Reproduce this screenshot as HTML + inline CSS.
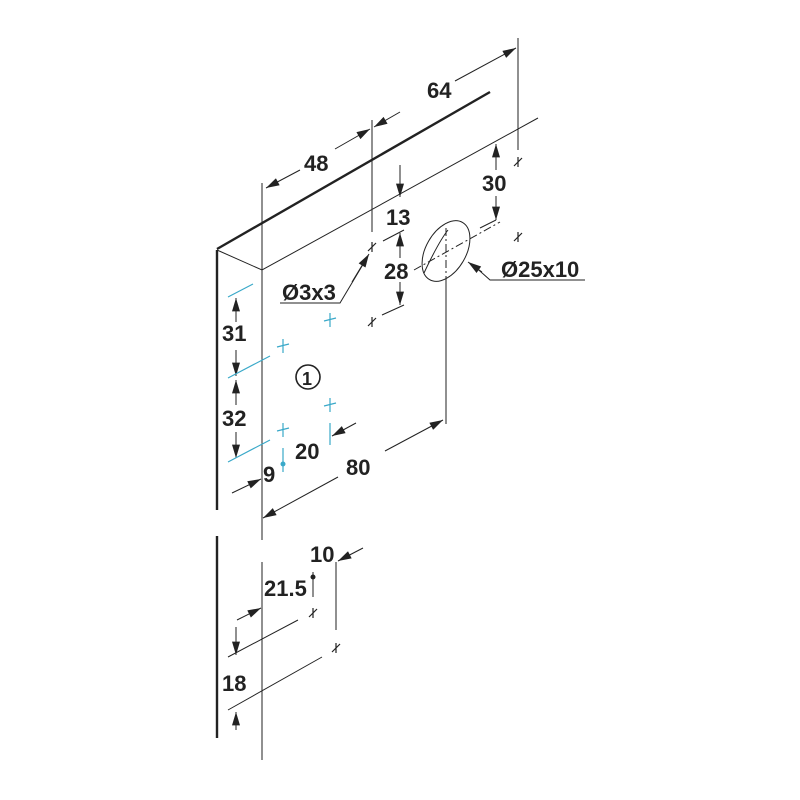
<!DOCTYPE html>
<html><head><style>body{margin:0;background:#fff}svg{display:block}text{font-family:"Liberation Sans",Arial,sans-serif;font-weight:bold;fill:#222}</style></head>
<body>
<svg width="800" height="800" viewBox="0 0 800 800">
<defs>
<marker id="a" viewBox="0 0 10 6" refX="10" refY="3" markerWidth="16" markerHeight="8" markerUnits="userSpaceOnUse" orient="auto"><path d="M0,0L10,3L0,6z" fill="#222"/></marker>
</defs>
<g stroke="#222" fill="none" stroke-width="1">
<path d="M217,250V510M217,536V738" stroke-width="2.4"/>
<path d="M217,249L490,92" stroke-width="2.4"/>
<path d="M217,250L262,270L538,118"/>
<path d="M262,183V540M262,562V760"/>
<path d="M446,282V424"/>
<path d="M372,120V232M518,38V150"/>
<path d="M446,228V302" stroke-dasharray="8,3,2,3"/>
<path d="M414,270L500,222" stroke-dasharray="8,3,2,3"/>
<ellipse cx="446" cy="251" rx="20" ry="33" transform="rotate(30 446 251)"/>
<path d="M424,273C432,256 440,240 448,230"/>
<path d="M300,170L266,188" marker-end="url(#a)"/>
<path d="M335,149L370,129" marker-end="url(#a)"/>
<path d="M400,112L374,127" marker-end="url(#a)"/>
<path d="M455,81L516,48" marker-end="url(#a)"/>
<path d="M496,170L496,144" marker-end="url(#a)"/>
<path d="M496,196L496,220" marker-end="url(#a)"/>
<path d="M496,220L480,228"/>
<path d="M400,165L400,197" marker-end="url(#a)"/>
<path d="M383,241L404,230"/>
<path d="M400,258L400,233" marker-end="url(#a)"/>
<path d="M400,282L400,305" marker-end="url(#a)"/>
<path d="M382,315L404,305"/>
<path d="M585,280H490L472,264"/><path d="M482,272L468,262" marker-end="url(#a)"/>
<path d="M280,303H340L368,256"/><path d="M352,282L369,254" marker-end="url(#a)"/>
<path d="M236,322L236,298" marker-end="url(#a)"/>
<path d="M236,350L236,376" marker-end="url(#a)"/>
<path d="M236,405L236,380" marker-end="url(#a)"/>
<path d="M236,432L236,458" marker-end="url(#a)"/>
<path d="M232,493L261,479" marker-end="url(#a)"/>
<path d="M356,423L332,436" marker-end="url(#a)"/>
<path d="M385,451L443,420" marker-end="url(#a)"/>
<path d="M338,477L263,518" marker-end="url(#a)"/>
<path d="M363,548L338,561" marker-end="url(#a)"/>
<path d="M336,562V630M313,572V597"/>
<path d="M237,620L261,608" marker-end="url(#a)"/>
<path d="M228,657L298,620M228,710L322,657"/>
<path d="M236,627L236,655" marker-end="url(#a)"/>
<path d="M236,730L236,712" marker-end="url(#a)"/>
<circle cx="308" cy="377" r="12" stroke-width="1.6"/>
</g>
<g stroke="#222" stroke-width="1.2">
<path d="M368,251l8,-8M372,242v10M368,326l8,-8M372,317v10M514,166l8,-8M518,157v10M514,241l8,-8M518,232v10M309,617l8,-8M313,608v10M332,652l8,-8M336,643v10"/>
</g>
<circle cx="313" cy="577" r="2.5" fill="#222"/>
<g stroke="#3aa9c9" stroke-width="1.2" fill="none">
<path d="M228,297L253,284M228,378L270,356M228,462L270,440"/>
<path d="M330,313v14M324,321l12,-3M283,339v14M277,347l12,-3M330,398v14M324,406l12,-3M283,423v14M277,431l12,-3"/>
<path d="M330,423V445M283,448V472"/>
</g>
<circle cx="283" cy="464" r="2.5" fill="#3aa9c9"/>
<g font-size="22">
<text x="304" y="171">48</text>
<text x="427" y="98">64</text>
<text x="482" y="191">30</text>
<text x="386" y="225">13</text>
<text x="384" y="279">28</text>
<text x="501" y="277">Ø25x10</text>
<text x="282" y="300">Ø3x3</text>
<text x="222" y="341">31</text>
<text x="222" y="426">32</text>
<text x="263" y="482">9</text>
<text x="295" y="459">20</text>
<text x="346" y="475">80</text>
<text x="302" y="385" font-size="18">1</text>
<text x="310" y="562">10</text>
<text x="264" y="596">21.5</text>
<text x="222" y="691">18</text>
</g>
</svg>
</body></html>
